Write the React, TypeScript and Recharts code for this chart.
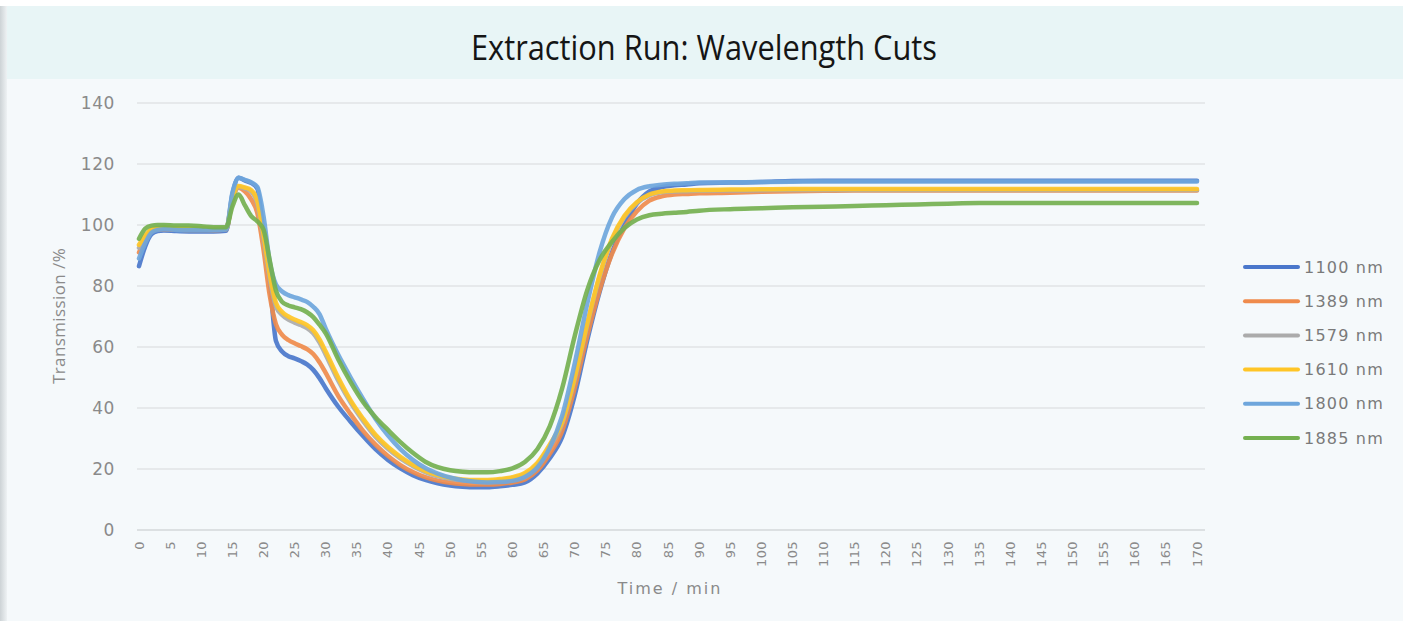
import React from 'react';
import { LineChart, Line, XAxis, YAxis, CartesianGrid } from 'recharts';

const TIMES = [0, 1, 2, 3, 4, 6, 8, 10, 12, 14, 15, 16, 17, 18, 19, 20, 21, 22, 23, 24, 25, 26, 27, 28, 29, 30,
  32, 34, 36, 38, 40, 42, 44, 46, 48, 50, 52, 54, 56, 58, 60, 62, 64, 66, 68, 70, 72, 74, 76, 78, 80, 82, 84, 86, 88, 90,
  95, 100, 105, 110, 115, 120, 125, 130, 135, 140, 145, 150, 155, 160, 165, 170];

const S1100 = [86.5, 93, 97, 98, 98.2,
  98, 97.9, 97.9, 97.9, 98.1,
  110, 115.5, 114.6, 113.8, 112, 97, 82, 62, 58.5, 57, 56.3, 55.4, 54.3, 52.5, 49.8, 46.5,
  40.5, 35.5, 30.8, 26.5, 23, 20.2, 18, 16.4, 15.3, 14.6, 14.2, 14, 14, 14.3, 14.8, 15.6, 18.5, 23.5, 30.5, 44, 62, 78, 91, 100, 107, 111, 112.4, 113, 113.3, 113.7,
  113.9, 114.1, 114.4, 114.5, 114.5, 114.5, 114.5, 114.5, 114.5, 114.5, 114.5, 114.5, 114.5, 114.5, 114.5, 114.5];

const S1389 = [91, 95, 97.8, 98.5, 98.6,
  98.5, 98.4, 98.4, 98.3, 98.5,
  108, 112.2, 111, 108.5, 104, 92, 77, 67.5, 64, 62.3, 61.2, 60.3, 59.3, 57.7, 55, 51.5,
  44, 38, 32.5, 28, 24.3, 21.3, 19, 17.3, 16.2, 15.5, 15.1, 14.9, 14.9, 15.1, 15.6, 16.6, 19.5, 25, 32.5, 46.5, 63.5, 78.5, 90.5, 99, 104.5, 108, 109.4, 110, 110.2, 110.4,
  110.6, 110.9, 111.1, 111.2, 111.3, 111.3, 111.3, 111.3, 111.3, 111.3, 111.3, 111.3, 111.3, 111.3, 111.3, 111.3];

const S1579 = [92.5, 96, 98.3, 98.8, 99,
  98.8, 98.7, 98.7, 98.6, 98.7,
  108.3, 112.5, 112, 111, 107, 95.5, 82.5, 73.3, 70.5, 69, 68, 67.2, 66.2, 64.5, 61.5, 57.5,
  49, 41.8, 35.8, 30.6, 26.6, 23.5, 21, 19, 17.6, 16.8, 16.3, 16.1, 16.1, 16.4, 17, 18.3, 21.5, 27.3, 35, 49.3, 67, 83, 95, 102.6, 107.2, 109.7, 110.7, 111, 111.1, 111.2,
  111.3, 111.4, 111.5, 111.5, 111.5, 111.5, 111.5, 111.5, 111.5, 111.5, 111.5, 111.5, 111.5, 111.5, 111.5, 111.5];

const S1610 = [93.5, 96.5, 98.6, 99, 99.2,
  99, 98.9, 98.9, 98.8, 98.9,
  108.5, 112.8, 112.3, 111.5, 108, 97, 84, 74.5, 71.5, 70, 69, 68.2, 67.2, 65.5, 62.5, 58.5,
  50, 42.5, 36.5, 31.2, 27.2, 24, 21.4, 19.4, 18, 17.1, 16.6, 16.4, 16.4, 16.7, 17.3, 18.7, 22, 28, 35.5, 50, 67.5, 83.5, 95.5, 103, 107.5, 110, 111, 111.3, 111.4, 111.5,
  111.6, 111.7, 111.8, 111.8, 111.8, 111.8, 111.8, 111.8, 111.8, 111.8, 111.8, 111.8, 111.8, 111.8, 111.8, 111.8];

const S1800 = [89, 94, 97.5, 98.4, 98.6,
  98.4, 98.3, 98.3, 98.3, 98.5,
  110.5, 115.5, 114.8, 114, 112.5, 103, 88, 80.5, 78.2, 77, 76.3, 75.6, 74.8, 73.2, 70.8, 66,
  57.5, 50, 43, 36.5, 31, 26.5, 23, 20.3, 18.5, 17.2, 16.3, 15.8, 15.6, 15.7, 16.1, 17.4, 20.5, 27, 37.5, 54.5, 74, 91, 102.5, 108.5, 111.5, 112.7, 113.2, 113.5, 113.7, 113.9,
  114, 114.1, 114.2, 114.3, 114.3, 114.3, 114.3, 114.3, 114.3, 114.3, 114.3, 114.3, 114.3, 114.3, 114.3, 114.3];

const S1885 = [95.5, 98.8, 99.8, 100, 100,
  99.8, 99.8, 99.6, 99.3, 99.3,
  106, 110, 106.5, 103, 101.2, 98.5, 88.5, 78.5, 74.8, 73.6, 73, 72.4, 71.4, 69.8, 67.3, 64.5,
  56, 48.5, 42, 37, 32.8, 28.8, 25.3, 22.4, 20.6, 19.6, 19.1, 18.9, 18.9, 19.3, 20.2, 22.3, 26.5, 34, 46.5, 63.5, 78.5, 88.5, 94.5, 99, 101.8, 103.2, 103.7, 104, 104.3, 104.7,
  105.2, 105.5, 105.8, 106, 106.2, 106.5, 106.7, 107, 107.2, 107.2, 107.2, 107.2, 107.2, 107.2, 107.2, 107.2];

const X_TICKS = [0, 5, 10, 15, 20, 25, 30, 35, 40, 45, 50, 55, 60, 65, 70, 75, 80, 85, 90, 95, 100, 105, 110, 115,
  120, 125, 130, 135, 140, 145, 150, 155, 160, 165, 170];
const Y_TICKS = [0, 20, 40, 60, 80, 100, 120, 140];

const SERIES = [
  { key: 's1100', name: '1100 nm', color: '#4A77CB', values: S1100 },
  { key: 's1389', name: '1389 nm', color: '#EF8B4C', values: S1389 },
  { key: 's1579', name: '1579 nm', color: '#ABABAB', values: S1579 },
  { key: 's1610', name: '1610 nm', color: '#FFC526', values: S1610 },
  { key: 's1800', name: '1800 nm', color: '#6EA6DC', values: S1800 },
  { key: 's1885', name: '1885 nm', color: '#74B050', values: S1885 },
];

const DATA = TIMES.map((t, i) => {
  const row: Record<string, number> = { t };
  SERIES.forEach((s) => { row[s.key] = s.values[i]; });
  return row;
});

const TICK_COLOR = '#8a8a8a';

const XTick = (props: any) => {
  const { x, y, payload } = props;
  return (
    <text x={x} y={y} transform={`rotate(-90 ${x} ${y})`} textAnchor="end" dominantBaseline="central"
      fill={TICK_COLOR} fontSize={13} fontFamily="DejaVu Sans" letterSpacing={0.4}>
      {payload.value}
    </text>
  );
};

export default function App() {
  return (
    <div style={{ position: 'absolute', left: 0, top: 0, width: 1403, height: 621, background: '#ffffff', overflow: 'hidden' }}>
      <div style={{ position: 'absolute', left: 0, top: 79, width: 1403, height: 542, background: '#F5F9FB' }} />
      <div style={{ position: 'absolute', left: 0, top: 6, width: 1403, height: 73, background: '#E8F5F6' }} />
      <div style={{ position: 'absolute', left: 0, top: 6, width: 7, height: 615, background: 'linear-gradient(to right, #cdd3d6, #eef2f4)' }} />
      <div style={{ position: 'absolute', left: 0, top: 0 }}>
        <LineChart width={1403} height={621} data={DATA} margin={{ top: 103, right: 198, bottom: 51, left: 77 }}>
          <CartesianGrid vertical={false} stroke="#E0E3E6" strokeWidth={1.5} />
          <XAxis dataKey="t" type="number" domain={[0, 170]} ticks={X_TICKS} interval={0}
            tickLine={false} tickSize={0} tickMargin={11} height={40}
            axisLine={{ stroke: '#D9DCDF', strokeWidth: 1.5 }} padding={{ left: 2, right: 8 }}
            tick={<XTick />} />
          <YAxis type="number" domain={[0, 140]} ticks={Y_TICKS} interval={0} width={60}
            axisLine={false} tickLine={false} tickSize={0} tickMargin={22}
            tick={{ fill: TICK_COLOR, fontSize: 17, fontFamily: 'DejaVu Sans', letterSpacing: 0.6 }} />
          {SERIES.map((s) => (
            <Line key={s.key} dataKey={s.key} name={s.name} type="monotone" stroke={s.color}
              strokeWidth={4.5} strokeOpacity={0.92} dot={false} activeDot={false} isAnimationActive={false}
              strokeLinejoin="round" strokeLinecap="round" />
          ))}
        </LineChart>
      </div>
      <svg width={1403} height={621} style={{ position: 'absolute', left: 0, top: 0, pointerEvents: 'none' }}>
        <text x={704} y={60} textAnchor="middle" fontSize={34} fontFamily="Open Sans" fill="#151515"
          textLength={466} lengthAdjust="spacingAndGlyphs">Extraction Run: Wavelength Cuts</text>
        <text x={58} y={316} transform="rotate(-90 58 316)" textAnchor="middle" dominantBaseline="central"
          fontSize={17} fontFamily="Open Sans" fill={TICK_COLOR} letterSpacing={0.4}>Transmission /%</text>
        <text x={670} y={594} textAnchor="middle" fontSize={16} fontFamily="DejaVu Sans" fill={TICK_COLOR}
          letterSpacing={2}>Time / min</text>
        {SERIES.map((s, i) => {
          const cy = 267 + i * 34.2;
          return (
            <g key={s.key}>
              <line x1={1245} x2={1298} y1={cy} y2={cy} stroke={s.color} strokeWidth={4} strokeLinecap="round" />
              <text x={1304} y={cy} dominantBaseline="central" fontSize={16} fontFamily="DejaVu Sans"
                fill="#7a7a7a" letterSpacing={1.2}>{s.name}</text>
            </g>
          );
        })}
      </svg>
    </div>
  );
}
